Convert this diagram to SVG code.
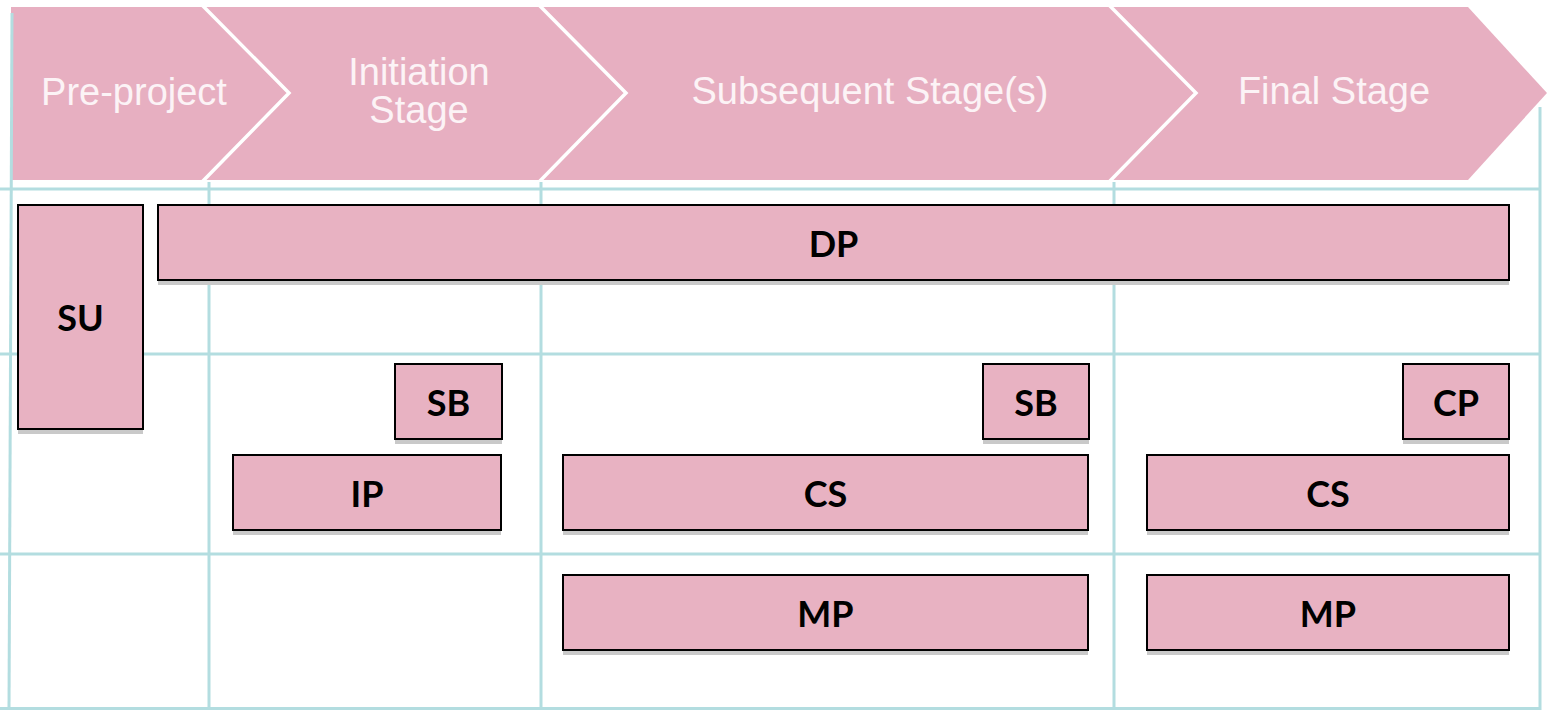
<svg xmlns="http://www.w3.org/2000/svg" width="1552" height="710" viewBox="0 0 1552 710">
  <style>
    .grid { stroke: #B3DDE0; stroke-width: 3; fill: none; }
    .sep { stroke: #FFFFFF; stroke-width: 3.5; fill: none; stroke-linejoin: miter; }
    .hdr { font-family: "Liberation Sans", Arial, sans-serif; font-size: 38px; fill: #FCF3F6; text-anchor: middle; }
    .box { fill: #E8B2C2; stroke: #000000; stroke-width: 2; }
    .shadow { fill: #C9C9C9; }
    .lbl { font-family: Lato, "Open Sans", sans-serif; font-weight: bold; font-size: 36px; fill: #000000; text-anchor: middle; }
  </style>
  <rect width="1552" height="710" fill="#FFFFFF"/>

  <g id="stage-band">
    <polygon points="11,7 1468,7 1547,93 1468,180 11,180" fill="#E7AFC1"/>
    <polyline class="sep" points="202,5 289,93 202,182"/>
    <polyline class="sep" points="539,5 626,93 539,182"/>
    <polyline class="sep" points="1109,5 1196,93 1109,182"/>
    <text class="hdr" x="134" y="105">Pre-project</text>
    <text class="hdr" x="419" y="85">Initiation</text>
    <text class="hdr" x="419" y="123">Stage</text>
    <text class="hdr" x="870" y="104">Subsequent Stage(s)</text>
    <text class="hdr" x="1334" y="104">Final Stage</text>
  </g>

  <g id="grid">
    <line class="grid" x1="12" y1="13" x2="9" y2="710"/>
    <line class="grid" x1="209" y1="182" x2="209" y2="710"/>
    <line class="grid" x1="541" y1="182" x2="541" y2="710"/>
    <line class="grid" x1="1114" y1="182" x2="1114" y2="710"/>
    <line class="grid" x1="1540" y1="107" x2="1540" y2="710"/>
    <line class="grid" x1="0" y1="189" x2="1540" y2="189"/>
    <line class="grid" x1="0" y1="354" x2="1540" y2="354"/>
    <line class="grid" x1="0" y1="554" x2="1540" y2="554"/>
    <line class="grid" x1="0" y1="708.5" x2="1540" y2="708.5"/>
  </g>

  <g id="SU">
    <rect class="shadow" x="18" y="210" width="125" height="224"/>
    <rect class="box" x="18" y="205" width="125" height="224"/>
    <text class="lbl" x="80.5" y="331">SU</text>
  </g>
  <g id="DP">
    <rect class="shadow" x="158" y="210" width="1351" height="75"/>
    <rect class="box" x="158" y="205" width="1351" height="75"/>
    <text class="lbl" x="833.5" y="256.5">DP</text>
  </g>
  <g id="SB1">
    <rect class="shadow" x="395" y="369" width="107" height="75"/>
    <rect class="box" x="395" y="364" width="107" height="75"/>
    <text class="lbl" x="448.5" y="415.5">SB</text>
  </g>
  <g id="IP">
    <rect class="shadow" x="233" y="460" width="268" height="75"/>
    <rect class="box" x="233" y="455" width="268" height="75"/>
    <text class="lbl" x="367" y="506.5">IP</text>
  </g>
  <g id="SB2">
    <rect class="shadow" x="983" y="369" width="106" height="75"/>
    <rect class="box" x="983" y="364" width="106" height="75"/>
    <text class="lbl" x="1036" y="415.5">SB</text>
  </g>
  <g id="CS1">
    <rect class="shadow" x="563" y="460" width="525" height="75"/>
    <rect class="box" x="563" y="455" width="525" height="75"/>
    <text class="lbl" x="825.5" y="506.5">CS</text>
  </g>
  <g id="CP">
    <rect class="shadow" x="1403" y="369" width="106" height="75"/>
    <rect class="box" x="1403" y="364" width="106" height="75"/>
    <text class="lbl" x="1456" y="415.5">CP</text>
  </g>
  <g id="CS2">
    <rect class="shadow" x="1147" y="460" width="362" height="75"/>
    <rect class="box" x="1147" y="455" width="362" height="75"/>
    <text class="lbl" x="1328" y="506.5">CS</text>
  </g>
  <g id="MP1">
    <rect class="shadow" x="563" y="580" width="525" height="75"/>
    <rect class="box" x="563" y="575" width="525" height="75"/>
    <text class="lbl" x="825.5" y="626.5">MP</text>
  </g>
  <g id="MP2">
    <rect class="shadow" x="1147" y="580" width="362" height="75"/>
    <rect class="box" x="1147" y="575" width="362" height="75"/>
    <text class="lbl" x="1328" y="626.5">MP</text>
  </g>

  <g id="connectors"></g>
</svg>
